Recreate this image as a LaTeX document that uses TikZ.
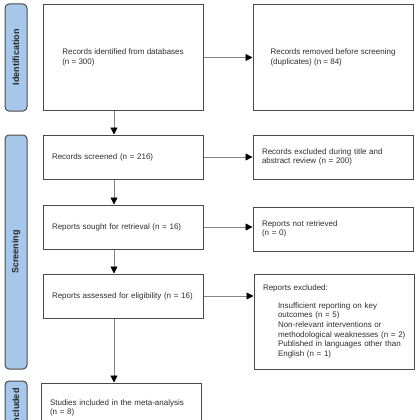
\documentclass[tikz,border=0pt]{standalone}
\usepackage{fontspec}
\setsansfont{Liberation Sans}
\usetikzlibrary{arrows.meta}
\definecolor{prBlue}{HTML}{A6C6EA}
\definecolor{prEdge}{HTML}{4A4A4A}
\definecolor{prArrow}{HTML}{858585}
\definecolor{prText}{HTML}{2E2E2E}
\tikzset{
  pr base/.style={draw=prEdge, line width=1pt, fill=white, minimum width=160pt, align=left, font=\sffamily\fontsize{8}{9.6}\selectfont, text=prText},
  pr box/.style={pr base, text width=142pt, inner xsep=9pt, minimum height=44pt},
  pr big box/.style={pr base, minimum height=105pt},
  pr stage/.style={draw=prEdge, line width=1pt, fill=prBlue, rounded corners=4pt, rotate=90, minimum height=22pt, inner sep=0pt, font=\sffamily\bfseries\fontsize{9}{10}\selectfont, text=black!85},
  pr arrow/.style={draw=prArrow, line width=0.8pt, -{Triangle[length=7pt,width=7pt,color=black]}},
}
\begin{document}
\begin{tikzpicture}[x=1pt,y=-1pt]
  \useasboundingbox (0,0) rectangle (420,420);
  \clip (0,0) rectangle (420,420);
  % Stage labels on the left
  \node[pr stage, minimum width=107pt] (identification) at (16,57.5) {Identification};
  \node[pr stage, minimum width=234pt] (screening) at (16,252) {Screening};
  \node[pr stage, minimum width=52pt] (included) at (16,407) {Included};
  % Main column
  \node[pr big box] (identified) at (123,57.5) {Records identified from databases\\(n = 300)};
  \node[pr box] (screened) at (123,157) {Records screened (n = 216)};
  \node[pr box] (sought) at (123,227) {Reports sought for retrieval (n = 16)};
  \node[pr box] (assessed) at (123,296) {Reports assessed for eligibility (n = 16)};
  \node[pr box, minimum height=50pt] (meta) at (121,408) {Studies included in the meta-analysis\\(n = 8)};
  % Side column
  \node[pr big box] (duplicates) at (333,57.5) {Records removed before screening\\(duplicates) (n = 84)};
  \node[pr box] (titleabs) at (333,157) {Records excluded during title and\\abstract review (n = 200)};
  \node[pr box] (notretrieved) at (333,229) {Reports not retrieved\\(n = 0)};
  \node[pr box, minimum height=95pt] (excluded) at (334,321.5) {Reports excluded:\\[8pt]
    \hspace*{15pt}\mbox{Insufficient reporting on key}\\
    \hspace*{15pt}\mbox{outcomes (n = 5)}\\
    \hspace*{15pt}\mbox{Non-relevant interventions or}\\
    \hspace*{15pt}\mbox{methodological weaknesses (n = 2)}\\
    \hspace*{15pt}\mbox{Published in languages other than}\\
    \hspace*{15pt}\mbox{English (n = 1)}};
  % Arrows
  \draw[pr arrow] (identified) -- (duplicates);
  \draw[pr arrow] (screened) -- (titleabs);
  \draw[pr arrow] (sought.east) -- (sought.east -| notretrieved.west);
  \draw[pr arrow] (assessed.east) -- (assessed.east -| excluded.west);
  \draw[pr arrow] ([xshift=-9pt]identified.south) -- ([xshift=-9pt]screened.north);
  \draw[pr arrow] ([xshift=-9pt]screened.south) -- ([xshift=-9pt]sought.north);
  \draw[pr arrow] ([xshift=-9pt]sought.south) -- ([xshift=-9pt]assessed.north);
  \draw[pr arrow] ([xshift=-9pt]assessed.south) -- ([xshift=-9pt]assessed.south |- meta.north);
\end{tikzpicture}
\end{document}
